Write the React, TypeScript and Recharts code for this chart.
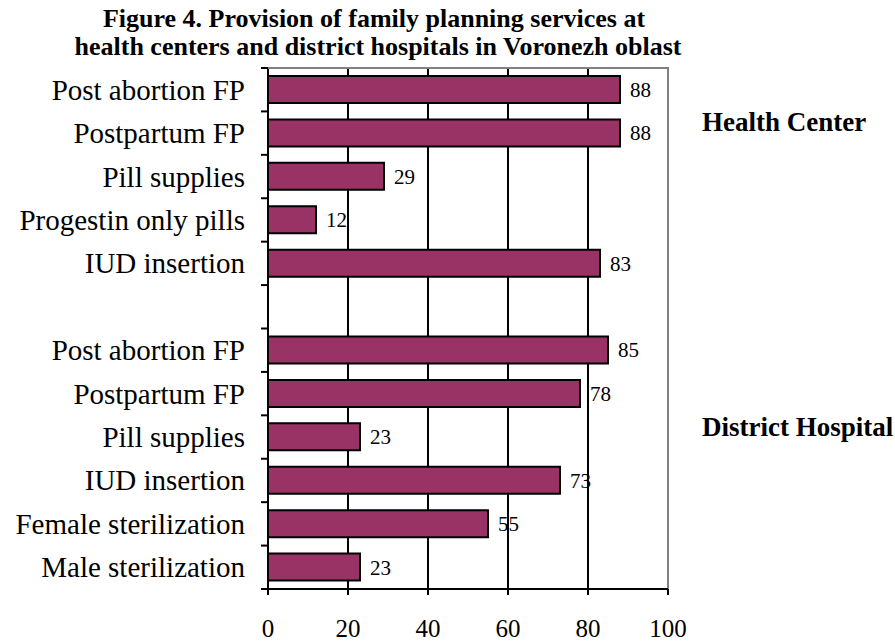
import { BarChart, Bar, XAxis, YAxis, CartesianGrid, ReferenceLine, LabelList } from 'recharts';

const categories = [
  'Post abortion FP',
  'Postpartum FP',
  'Pill supplies',
  'Progestin only pills',
  'IUD insertion',
  '',
  'Post abortion FP',
  'Postpartum FP',
  'Pill supplies',
  'IUD insertion',
  'Female sterilization',
  'Male sterilization',
];
const values = [88, 88, 29, 12, 83, null, 85, 78, 23, 73, 55, 23];
const xTicks = [0, 20, 40, 60, 80, 100];
const groupNames = ['Health Center', 'District Hospital'];
const titleLines = [
  'Figure 4.  Provision of family planning services at',
  'health centers and district hospitals in Voronezh oblast',
];

const W = 895;
const H = 641;
const Y_AXIS_W = 268;
const X_AXIS_H = 52;
const M = { top: 68, right: 227, bottom: 0, left: 0 };
const plotLeft = M.left + Y_AXIS_W;
const plotRight = W - M.right;
const rowH = (H - M.top - M.bottom - X_AXIS_H) / categories.length;
const serif = "'Liberation Serif', 'Times New Roman', serif";

const data = categories.map((c, i) => ({ id: `r${i}`, label: c, value: values[i] }));

const CategoryTick = ({ x, y, payload }: any) => {
  const i = payload.index;
  const isLast = i === categories.length - 1;
  return (
    <g>
      <line x1={x - 7} x2={x} y1={y - rowH / 2} y2={y - rowH / 2} stroke="#000" strokeWidth={2} />
      {isLast && (
        <line x1={x - 7} x2={x} y1={y + rowH / 2} y2={y + rowH / 2} stroke="#000" strokeWidth={2} />
      )}
      <text x={x - 23} y={y + 10} textAnchor="end" fontSize={29} fontFamily={serif} fill="#000">
        {categories[i]}
      </text>
    </g>
  );
};

export default function App() {
  return (
    <div style={{ position: 'absolute', left: 0, top: 0, width: W, height: H, background: '#fff' }}>
      <BarChart
        width={W}
        height={H}
        data={data}
        layout="vertical"
        margin={M}
        barSize={27}
      >
        <CartesianGrid horizontal={false} stroke="#000" strokeWidth={2} />
        <XAxis
          type="number"
          domain={[0, 100]}
          ticks={xTicks}
          axisLine={{ stroke: '#000', strokeWidth: 2 }}
          tickLine={{ stroke: '#000', strokeWidth: 2 }}
          tickSize={6}
          tickMargin={24}
          height={X_AXIS_H}
          tick={{ fontSize: 25, fontFamily: serif, fill: '#000' }}
        />
        <YAxis
          yAxisId="cat"
          type="category"
          dataKey="id"
          width={Y_AXIS_W}
          tickSize={0}
          tickMargin={0}
          tickLine={false}
          interval={0}
          axisLine={{ stroke: '#000', strokeWidth: 2 }}
          tick={<CategoryTick />}
        />
        <ReferenceLine yAxisId="cat" x={100} stroke="#808080" strokeWidth={2} />
        <Bar
          yAxisId="cat"
          dataKey="value"
          fill="#993366"
          stroke="#000"
          strokeWidth={2}
          isAnimationActive={false}
        >
          <LabelList
            dataKey="value"
            position="right"
            offset={10}
            fontSize={21}
            fontFamily={serif}
            fill="#000"
          />
        </Bar>
      </BarChart>
      <svg
        width={W}
        height={H}
        style={{ position: 'absolute', left: 0, top: 0, pointerEvents: 'none', whiteSpace: 'pre' }}
      >
        {/* gray top edge of the plot frame */}
        <line x1={plotLeft} x2={plotRight + 1} y1={M.top} y2={M.top} stroke="#808080" strokeWidth={2} />
        <text x={374} y={27} textAnchor="middle" fontSize={26} fontWeight="bold" fontFamily={serif}>
          {titleLines[0]}
        </text>
        <text x={378} y={55} textAnchor="middle" fontSize={26} fontWeight="bold" fontFamily={serif}>
          {titleLines[1]}
        </text>
        <text x={702} y={131} fontSize={27} fontWeight="bold" fontFamily={serif}>
          {groupNames[0]}
        </text>
        <text x={702} y={436} fontSize={27} fontWeight="bold" fontFamily={serif}>
          {groupNames[1]}
        </text>
      </svg>
    </div>
  );
}
